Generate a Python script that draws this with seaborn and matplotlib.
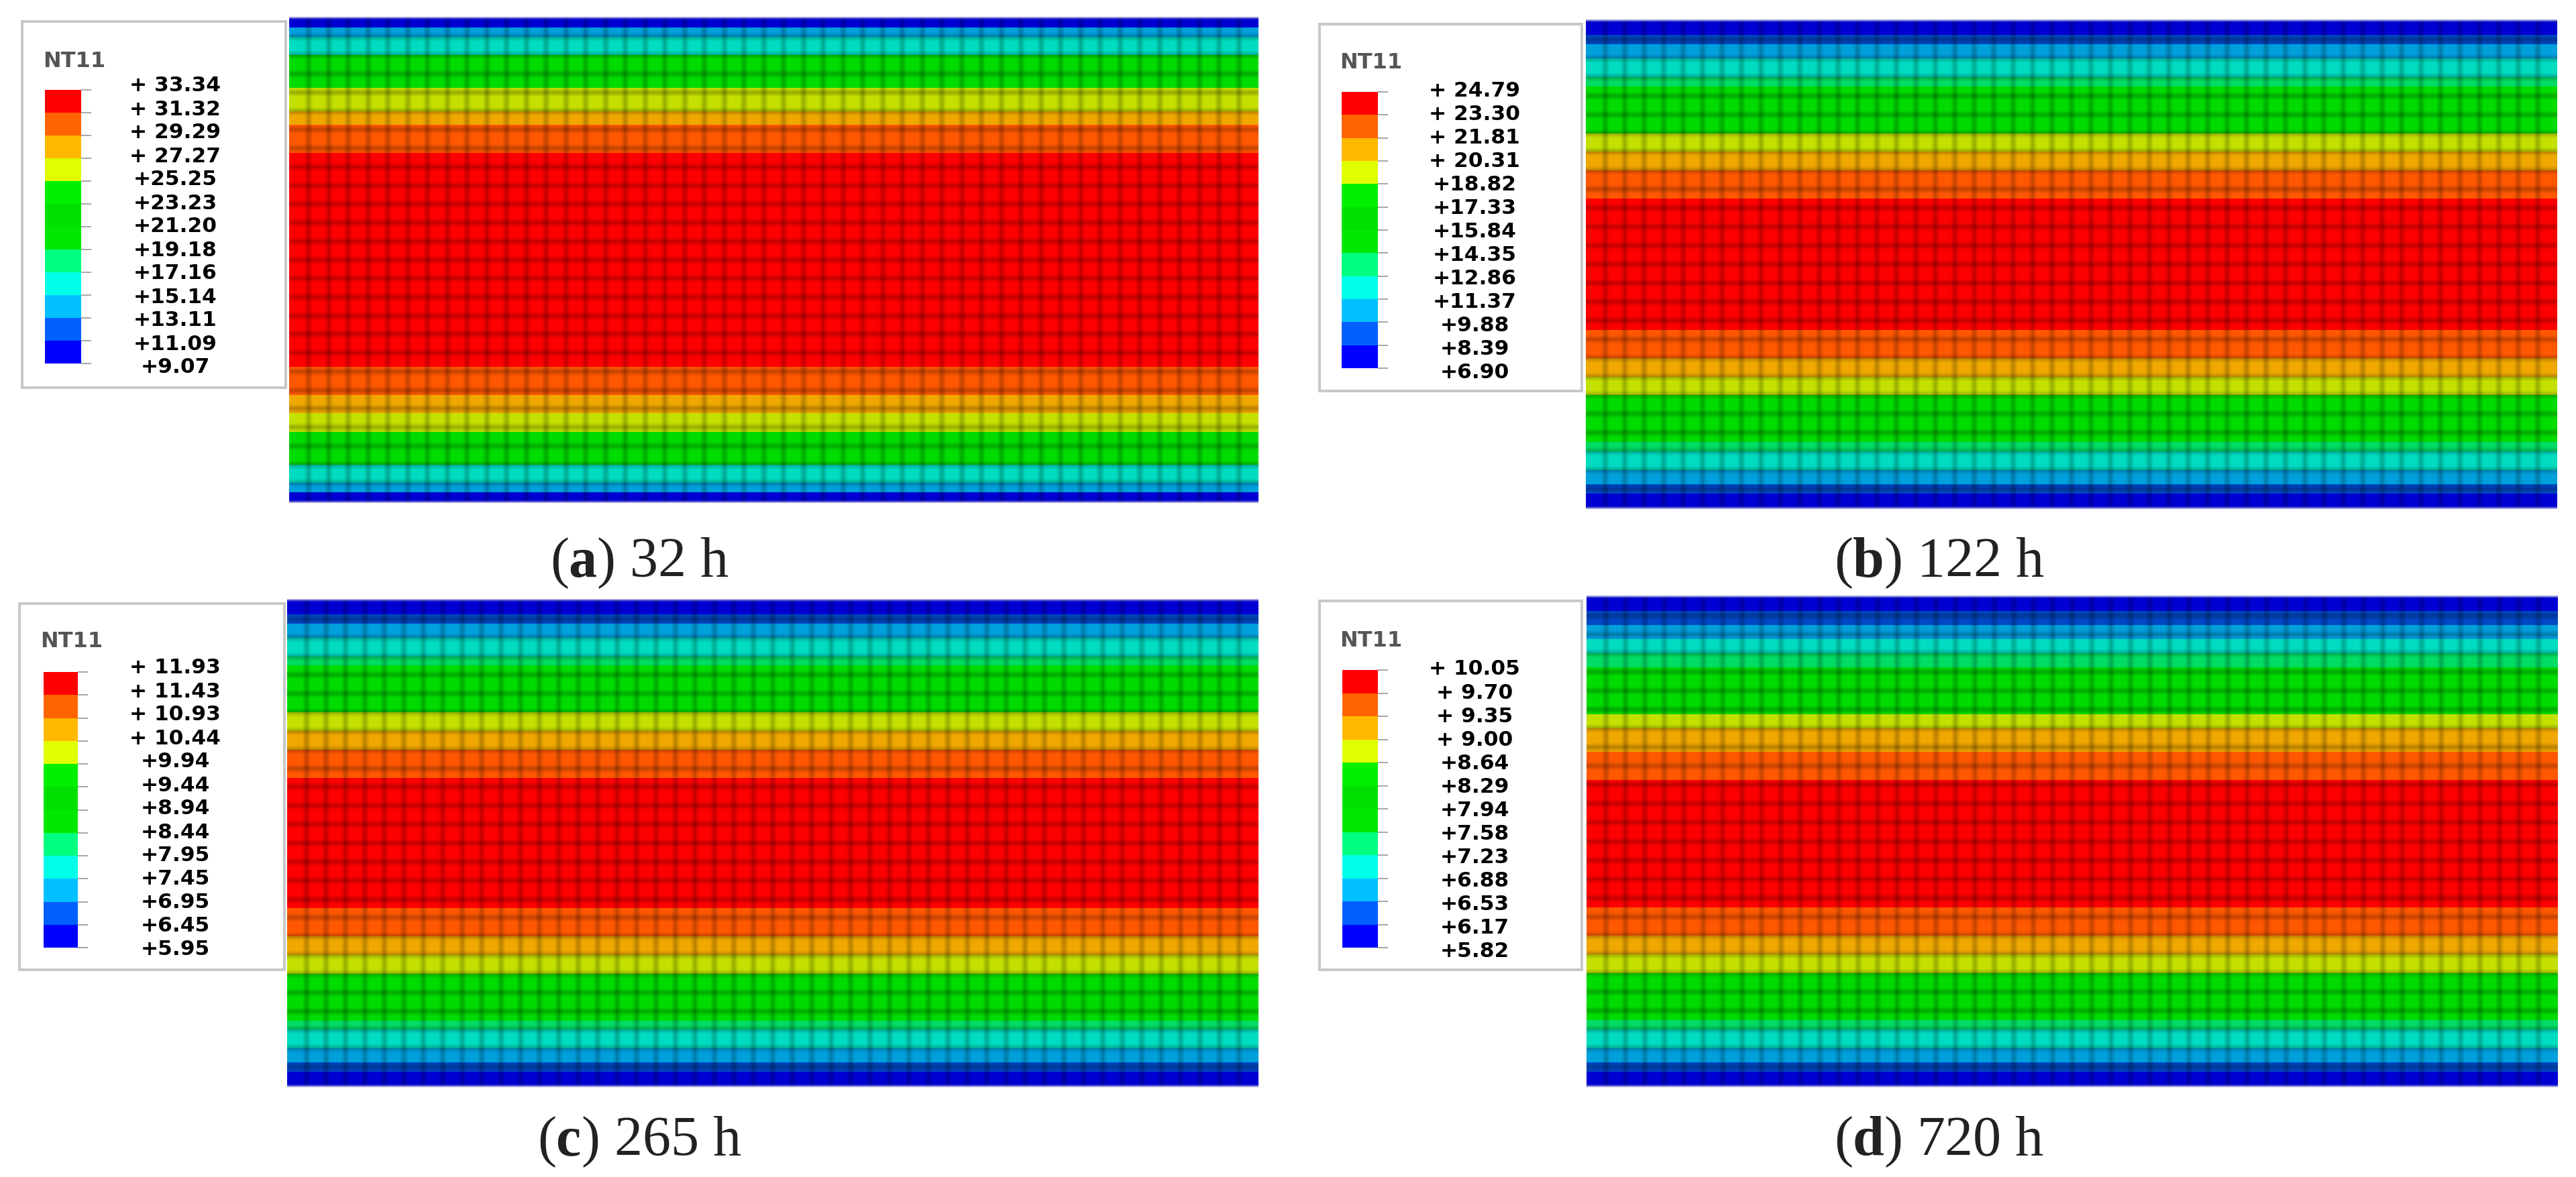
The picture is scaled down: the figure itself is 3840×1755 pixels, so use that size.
"""
Temperature field (NT11) of the mesh at four times, four heatmap panels with contour legends.
"""

import numpy as np
import matplotlib
matplotlib.use("Agg")
from matplotlib import pyplot as plt
from matplotlib.colors import BoundaryNorm, ListedColormap
from matplotlib.patches import Rectangle
import seaborn as sns

# Contour levels printed in the legends, top to bottom
labels_a = ["+ 33.34", "+ 31.32", "+ 29.29", "+ 27.27", "+25.25", "+23.23", "+21.20",
            "+19.18", "+17.16", "+15.14", "+13.11", "+11.09", "+9.07"]
labels_b = ["+ 24.79", "+ 23.30", "+ 21.81", "+ 20.31", "+18.82", "+17.33", "+15.84",
            "+14.35", "+12.86", "+11.37", "+9.88", "+8.39", "+6.90"]
labels_c = ["+ 11.93", "+ 11.43", "+ 10.93", "+ 10.44", "+9.94", "+9.44", "+8.94",
            "+8.44", "+7.95", "+7.45", "+6.95", "+6.45", "+5.95"]
labels_d = ["+ 10.05", "+ 9.70", "+ 9.35", "+ 9.00", "+8.64", "+8.29", "+7.94",
            "+7.58", "+7.23", "+6.88", "+6.53", "+6.17", "+5.82"]

levels_a = [9.07, 11.09, 13.11, 15.14, 17.16, 19.18, 21.20, 23.23, 25.25, 27.27, 29.29, 31.32, 33.34]
levels_b = [6.90, 8.39, 9.88, 11.37, 12.86, 14.35, 15.84, 17.33, 18.82, 20.31, 21.81, 23.30, 24.79]
levels_c = [5.95, 6.45, 6.95, 7.45, 7.95, 8.44, 8.94, 9.44, 9.94, 10.44, 10.93, 11.43, 11.93]
levels_d = [5.82, 6.17, 6.53, 6.88, 7.23, 7.58, 7.94, 8.29, 8.64, 9.00, 9.35, 9.70, 10.05]

# Temperature through the thickness, top to bottom, four readings per element row (26 rows)
temp_a = ([10.1] * 2 + [14.1] * 2 + [16.1] * 4 + [22.2] * 7 + [26.3] * 5 + [28.3] * 3 + [30.3] * 6
          + [32.3] * 46
          + [30.3] * 6 + [28.3] * 4 + [26.3] * 4 + [22.2] * 7 + [16.1] * 4 + [14.1] * 2 + [10.1] * 2)
temp_b = ([7.6] * 3 + [9.1] * 2 + [10.6] * 3 + [12.1] * 4 + [13.6] * 2 + [16.6] * 10
          + [19.6] * 4 + [21.1] * 4 + [22.6] * 6
          + [24.0] * 28
          + [22.6] * 6 + [21.1] * 4 + [19.6] * 4 + [16.6] * 10
          + [13.6] * 2 + [12.1] * 4 + [10.6] * 3 + [9.1] * 2 + [7.6] * 3)
temp_c = ([6.2] * 3 + [6.7] * 2 + [7.2] * 3 + [7.7] * 4 + [8.2] * 2 + [9.2] * 10
          + [10.2] * 4 + [10.7] * 4 + [11.2] * 6
          + [11.7] * 28
          + [11.2] * 6 + [10.7] * 4 + [10.2] * 4 + [9.2] * 10
          + [8.2] * 2 + [7.7] * 4 + [7.2] * 3 + [6.7] * 2 + [6.2] * 3)
temp_d = ([6.0] * 3 + [6.35] * 3 + [6.7] * 3 + [7.05] * 3 + [7.4] * 3 + [8.1] * 10
          + [8.8] * 3 + [9.2] * 5 + [9.5] * 6
          + [9.9] * 27
          + [9.5] * 6 + [9.2] * 4 + [8.8] * 4 + [8.1] * 10
          + [7.4] * 2 + [7.05] * 4 + [6.7] * 3 + [6.35] * 2 + [6.0] * 3)

# Colours of the 12 contour bands, coldest first
mesh_colors = ["#0000d2", "#0048c4", "#00a0dc", "#00dcc0", "#00dc64", "#00dc00",
               "#00dc00", "#00dc00", "#c4e000", "#f0a800", "#ff5800", "#ff0000"]
legend_colors = ["#0000ff", "#0060ff", "#00c0ff", "#00ffe8", "#00ff80", "#00e800",
                 "#00e000", "#00f000", "#e0ff00", "#ffb800", "#ff6400", "#ff0000"]

FIG_W, FIG_H = 3840, 1756
SUB_PER_ROW = 4

# Pixel layout of each panel, as found in the picture
panels = [
    dict(name="a", time="32 h", temp=temp_a, levels=levels_a, labels=labels_a, cols=49,
         mesh=(431, 28, 1876, 749), box=(33, 33, 426, 579), bar=(67, 135, 121, 543),
         title=(111, 91), text_x=261, text_y=(128, 548), cap=(953, 860)),
    dict(name="b", time="122 h", temp=temp_b, levels=levels_b, labels=labels_b, cols=50,
         mesh=(2364, 32, 3812, 758), box=(1967, 37, 2358, 584), bar=(2000, 138, 2054, 550),
         title=(2044, 94), text_x=2198, text_y=(135, 556), cap=(2891, 860)),
    dict(name="c", time="265 h", temp=temp_c, levels=levels_c, labels=labels_c, cols=50,
         mesh=(428, 896, 1876, 1620), box=(29, 901, 424, 1447), bar=(65, 1003, 116, 1414),
         title=(107, 957), text_x=261, text_y=(996, 1416), cap=(953, 1723)),
    dict(name="d", time="720 h", temp=temp_d, levels=levels_d, labels=labels_d, cols=50,
         mesh=(2365, 891, 3813, 1620), box=(1967, 897, 2358, 1447), bar=(2001, 1000, 2054, 1414),
         title=(2044, 955), text_x=2198, text_y=(998, 1419), cap=(2890, 1723)),
]

sns.set_theme(style="white")
plt.rcParams["font.family"] = ["DejaVu Sans"]
plt.rcParams["mathtext.fontset"] = "custom"
plt.rcParams["mathtext.rm"] = "Liberation Serif"
plt.rcParams["mathtext.bf"] = "Liberation Serif:bold"

PX = 72 / 100  # points per pixel at dpi=100


def add_axes_px(fig, rect):
    x0, y0, x1, y1 = rect
    return fig.add_axes([x0 / FIG_W, 1 - y1 / FIG_H, (x1 - x0) / FIG_W, (y1 - y0) / FIG_H])


fig = plt.figure(figsize=(FIG_W / 100, FIG_H / 100), dpi=100, facecolor="white")

for p in panels:
    norm = BoundaryNorm(p["levels"], 12)

    # Mesh: the field does not change along the length
    ax = add_axes_px(fig, p["mesh"])
    field = np.tile(np.array(p["temp"]).reshape(-1, 1), (1, p["cols"]))
    sns.heatmap(field, ax=ax, cmap=ListedColormap(mesh_colors), norm=norm, cbar=False,
                xticklabels=False, yticklabels=False)
    n_sub = field.shape[0]
    # element edges look soft in the picture, so stack a few wide faint lines
    for lw, alpha in [(12, 0.05), (8, 0.07), (4, 0.09)]:
        ax.hlines(np.arange(SUB_PER_ROW, n_sub, SUB_PER_ROW), 0, p["cols"],
                  color="black", alpha=alpha, lw=lw * PX)
        ax.vlines(np.arange(1, p["cols"]), 0, n_sub, color="black", alpha=alpha, lw=lw * PX)
    ax.hlines([0, n_sub], 0, p["cols"], color="#5050c8", alpha=0.55, lw=4 * PX, clip_on=False)

    # Legend frame
    x0, y0, x1, y1 = p["box"]
    fig.add_artist(Rectangle((x0 / FIG_W, 1 - y1 / FIG_H), (x1 - x0) / FIG_W, (y1 - y0) / FIG_H,
                             transform=fig.transFigure, facecolor="white",
                             edgecolor="#c8c8c8", lw=4 * PX, zorder=0))

    # Contour legend
    cax = add_axes_px(fig, p["bar"])
    mids = [(lo + hi) / 2 for lo, hi in zip(p["levels"][:-1], p["levels"][1:])]
    sns.heatmap(np.array(mids[::-1]).reshape(-1, 1), ax=cax, cmap=ListedColormap(legend_colors),
                norm=BoundaryNorm(p["levels"], 12), cbar=False, xticklabels=False, yticklabels=False)
    cax.yaxis.tick_right()
    cax.set_yticks(np.arange(13))
    cax.set_yticklabels([])
    cax.tick_params(axis="y", right=True, length=15 * PX, width=2 * PX, color="#a8a8a8", pad=0)

    fig.text(p["title"][0] / FIG_W, 1 - p["title"][1] / FIG_H, "NT11", color="#555555",
             fontsize=23, fontweight="bold", ha="center", va="center")
    top, bottom = p["text_y"]
    for i, lab in enumerate(p["labels"]):
        y = top + (bottom - top) * i / 12
        fig.text(p["text_x"] / FIG_W, 1 - y / FIG_H, lab, color="black", fontsize=22.5,
                 fontweight="bold", ha="center", va="center")

    # Caption
    fig.text(p["cap"][0] / FIG_W, 1 - p["cap"][1] / FIG_H,
             "($\\mathbf{%s}$) %s" % (p["name"], p["time"]), family="Liberation Serif",
             fontsize=60.5, color="#222222", ha="center", va="baseline")

fig.savefig("out.png", dpi=100)
